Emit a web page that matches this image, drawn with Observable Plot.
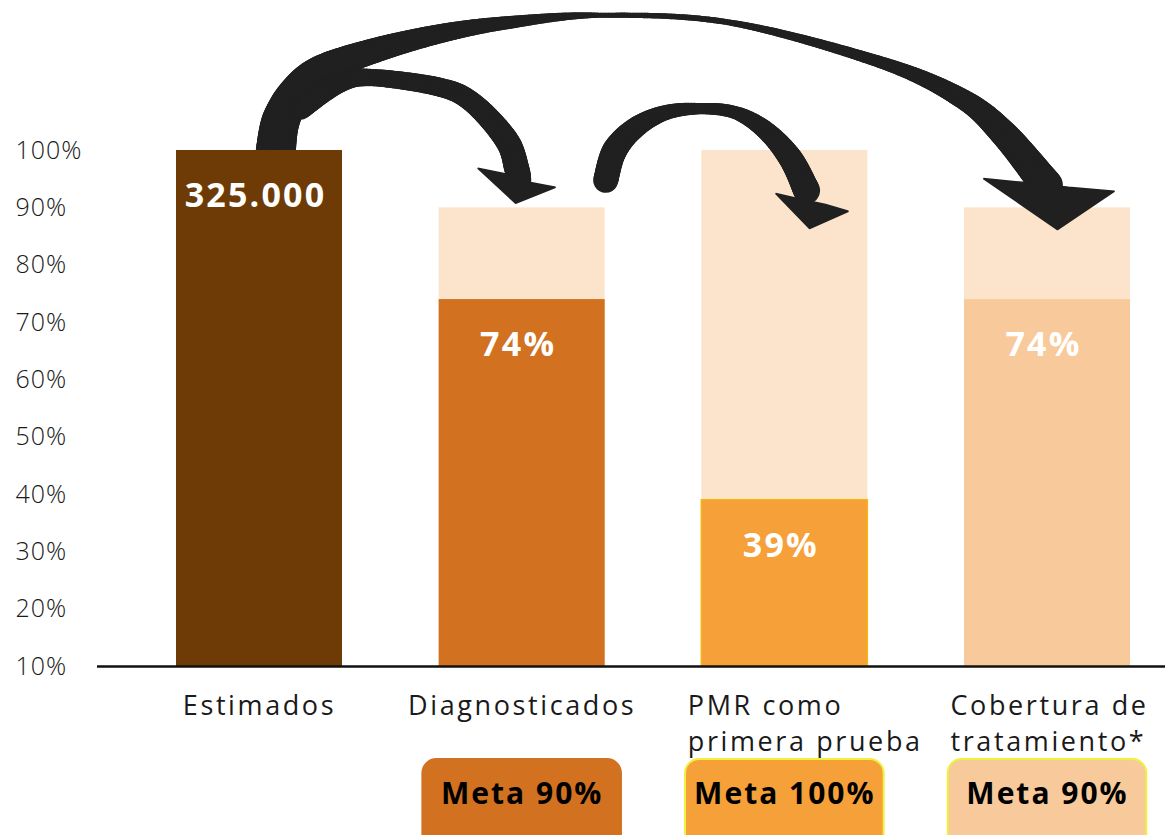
<!DOCTYPE html>
<html>
<head>
<meta charset="utf-8">
<script src="https://cdn.jsdelivr.net/npm/d3@7"></script>
<script src="https://cdn.jsdelivr.net/npm/@observablehq/plot@0.6"></script>
<style>
  body { margin: 0; background: #ffffff; }
  #chart svg { overflow: visible; }
</style>
</head>
<body>
<div id="chart"></div>
<script>
// ---- data ----
const categories = ["Estimados", "Diagnosticados", "PMR como\nprimera prueba", "Cobertura de\ntratamiento*"];
const achieved = [100, 74, 39, 74];          // bar heights (%)
const targets = [null, 90, 100, 90];          // "Meta" goals (%)
const valueLabels = ["325.000", "74%", "39%", "74%"];
const yTicks = [10, 20, 30, 40, 50, 60, 70, 80, 90, 100];

// ---- styles ----
const barColors = ["#6E3B06", "#D2711F", "#F6A03A", "#F8CA9B"];
const targetColor = "#FBE4CB";
const metaStroke = [null, "#D2711F", "#EEF23C", "#EEF23C"];
const arrowColor = "#202020";

const W = 1165, H = 835, mL = 259, mR = 118, mT = 150, mB = 169;
const baseline = yTicks[0];
const halfBar = 0.316, halfMeta = 0.378;

const rows = categories.map((c, i) => ({
  i, category: c, value: achieved[i], target: targets[i], label: valueLabels[i]
}));
const metaRows = rows.filter(d => d.target != null);

// ---- annotation arrows (hand-drawn brush arrows), in chart units: x = category index, y = % ----
// shaft: centre-line control points [x, y, stroke width]; head: outline polygon [x, y]
const arrowShapes = [
  { // Estimados -> Cobertura de tratamiento
    shaft: [[0.062,100.0,40],[0.081,105.2,38],[0.138,110.1,34],[0.233,114.0,30],[0.435,117.4,25],
            [0.690,120.4,19],[0.945,122.3,13],[1.299,123.6,5],[1.793,122.3,6],[2.364,115.4,12],
            [2.669,109.2,20],[2.832,103.0,27],[2.996,93.9,33]],
    head: [[2.756,95.1],[3.038,86.2],[3.255,92.9],[3.080,93.6],[2.916,94.4]]
  },
  { // Estimados -> Diagnosticados
    shaft: [[0.157,107.3,22],[0.309,111.9,20],[0.435,112.7,17],[0.690,111.0,19],[0.815,108.2,21],
            [0.941,101.8,24],[0.979,96.9,25],[0.987,94.8,25]],
    head: [[0.831,96.9],[0.975,90.8],[1.127,93.6],[1.032,94.4],[0.930,96.0]]
  },
  { // Diagnosticados -> PMR como primera prueba
    shaft: [[1.318,94.8,25],[1.352,100.0,25],[1.432,104.0,21],[1.546,106.6,15],[1.679,107.3,11],
            [1.812,106.6,13],[1.927,103.5,19],[2.022,98.6,24],[2.083,93.0,27]],
    head: [[1.965,92.5],[2.094,86.4],[2.242,89.4],[2.155,90.6],[2.052,91.6]]
  }
];

const xs = Plot.scale({x: {domain: [0, categories.length - 1], range: [mL, W - mR]}});
const ys = Plot.scale({y: {domain: [baseline, 100], range: [H - mB, mT]}});

// smooth (Catmull-Rom) brush stroke split into short pieces so the width can taper
function brushPieces(pts, id) {
  const P = pts.map(([x, y, w]) => [xs.apply(x), ys.apply(y), w]);
  const S = [];
  for (let k = 0; k < P.length - 1; k++) {
    const p0 = P[Math.max(0, k - 1)], p1 = P[k], p2 = P[k + 1], p3 = P[Math.min(P.length - 1, k + 2)];
    const n = Math.max(2, Math.ceil(Math.hypot(p2[0] - p1[0], p2[1] - p1[1]) / 3));
    for (let j = 0; j < n; j++) {
      const t = j / n, t2 = t * t, t3 = t2 * t;
      const cr = d => 0.5 * (2 * p1[d] + (-p0[d] + p2[d]) * t + (2 * p0[d] - 5 * p1[d] + 4 * p2[d] - p3[d]) * t2
        + (-p0[d] + 3 * p1[d] - 3 * p2[d] + p3[d]) * t3);
      S.push([cr(0), cr(1), p1[2] + (p2[2] - p1[2]) * t]);
    }
  }
  S.push(P[P.length - 1]);
  return d3.pairs(S).map(([a, b]) => ({
    id, x1: xs.invert(a[0]), y1: ys.invert(a[1]), x2: xs.invert(b[0]), y2: ys.invert(b[1]), w: (a[2] + b[2]) / 2
  }));
}
const shaftPieces = arrowShapes.flatMap((a, id) => brushPieces(a.shaft, id));
const headPoints = arrowShapes.flatMap((a, id) => a.head.map(([x, y]) => ({id, x, y})));

const chart = Plot.plot({
  width: W, height: H,
  marginLeft: mL, marginRight: mR, marginTop: mT, marginBottom: mB,
  x: {domain: [0, categories.length - 1], axis: null},
  y: {domain: [baseline, 100], axis: null, label: null},
  color: {type: "identity"},
  style: {fontFamily: "'Open Sans', sans-serif", fontSize: "24px", background: "#ffffff", color: "#1a1a1a"},
  marks: [
    // target (background) bars
    Plot.rect(metaRows, {x1: d => d.i - halfBar, x2: d => d.i + halfBar, y1: baseline, y2: "target", fill: targetColor}),
    // arrows: tapered shafts + notched heads
    Plot.link(shaftPieces, {x1: "x1", y1: "y1", x2: "x2", y2: "y2", strokeWidth: "w",
      stroke: arrowColor, strokeLinecap: "round"}),
    Plot.line(headPoints, {x: "x", y: "y", z: "id", curve: "linear-closed",
      fill: arrowColor, stroke: arrowColor, strokeWidth: 1.5, strokeLinejoin: "miter"}),
    // achieved bars
    Plot.rect(rows, {x1: d => d.i - halfBar, x2: d => d.i + halfBar, y1: baseline, y2: "value",
      fill: d => barColors[d.i]}),
    Plot.rect(rows.filter(d => d.i === 2), {x1: d => d.i - halfBar, x2: d => d.i + halfBar, y1: baseline, y2: "value",
      fill: "none", stroke: "#F5B414", strokeWidth: 1.5}),
    // baseline axis
    Plot.ruleY([baseline], {stroke: "#111", strokeWidth: 2.5, insetLeft: -(mL - 97), insetRight: -mR}),
    // y axis labels
    Plot.axisY(yTicks, {tickSize: 0, tickPadding: 0, textAnchor: "start", dx: 15 - mL, dy: 0,
      tickFormat: d => d + "%", label: null, fontSize: 25, fill: "#1a1a1a", fontWeight: 300}),
    // value labels
    Plot.text(rows, {x: "i", y: "value", text: "label", dy: 46, dx: -4, fill: "white",
      fontSize: 34, fontWeight: 700}),
    // category labels
    Plot.text(rows.filter(d => !d.category.includes("\n")), {x: "i", frameAnchor: "bottom", text: "category",
      dy: 29, lineAnchor: "top", fontSize: 27, fill: "#1a1a1a"}),
    Plot.text(rows.filter(d => d.category.includes("\n")), {x: "i", frameAnchor: "bottom", text: "category",
      dy: 24, dx: -97, textAnchor: "start", lineAnchor: "top", lineHeight: 1.3, fontSize: 27, fill: "#1a1a1a"}),
    // meta boxes
    Plot.rect(metaRows, {x1: d => d.i - halfMeta, x2: d => d.i + halfMeta, fill: d => barColors[d.i],
      stroke: d => metaStroke[d.i], strokeWidth: 2, rx: 14,
      insetTop: 759 - mT, insetBottom: -(862 - (H - mB))}),
    Plot.text(metaRows, {x: "i", frameAnchor: "bottom", dy: 137, text: d => "Meta " + d.target + "%",
      fontSize: 30, fontWeight: 700, fill: "#000"})
  ]
});
document.getElementById("chart").append(chart);

// letter spacing to approximate the wide geometric typeface of the original
const spacing = {"25": "1px", "27": "2.6px", "34": "2.2px", "30": "2px"};
chart.querySelectorAll("text").forEach(t => {
  const g = t.closest("[font-size]");
  const fs = g ? String(parseFloat(g.getAttribute("font-size"))) : null;
  if (fs && spacing[fs]) t.style.letterSpacing = spacing[fs];
});
</script>
</body>
</html>
